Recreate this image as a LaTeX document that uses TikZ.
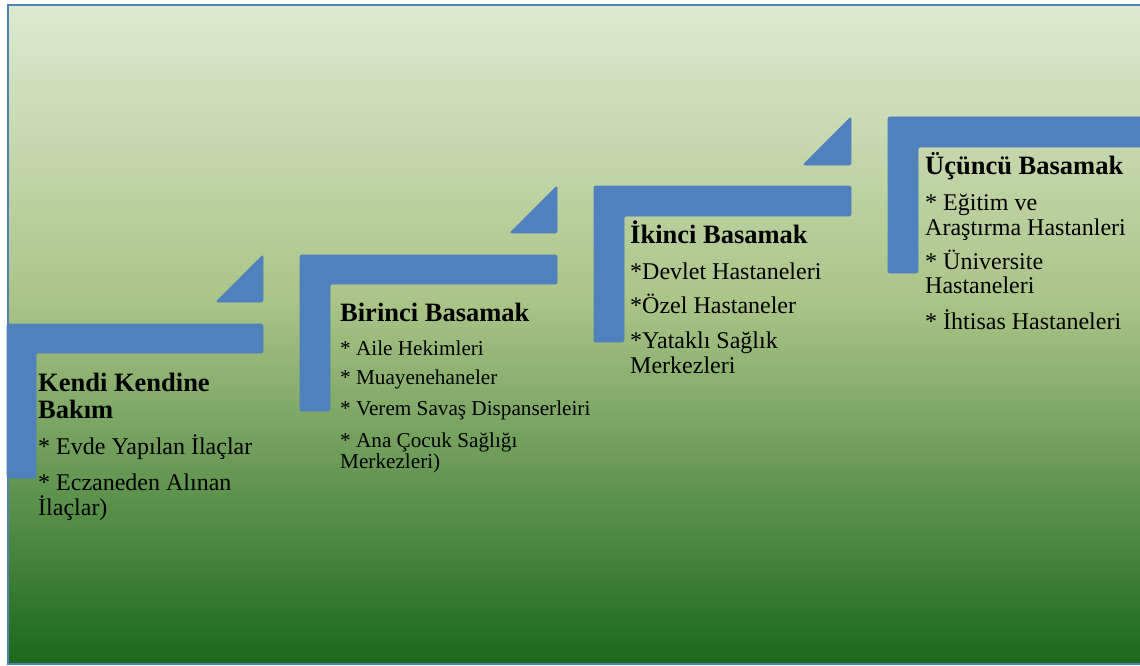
\documentclass[tikz,border=0pt]{standalone}
\usepackage{fontspec}
\setmainfont{Liberation Serif}
\definecolor{ltg}{HTML}{DDEAD0}
\definecolor{midg}{HTML}{ABC487}
\definecolor{dkg}{HTML}{1A681A}
\definecolor{stepblue}{HTML}{4F81BD}
\pgfdeclareverticalshading{bgshade}{100bp}{color(0bp)=(dkg); color(25bp)=(dkg); color(52.5bp)=(midg); color(75bp)=(ltg); color(100bp)=(ltg)}
\tikzset{
  stepshape/.style={fill=stepblue, draw=stepblue, line width=0.8pt, rounded corners=2pt},
  head/.style={anchor=base west, inner sep=0pt, font=\fontsize{26.5}{28}\selectfont\bfseries},
  body/.style={anchor=base west, inner sep=0pt, font=\fontsize{24}{26}\selectfont},
  bodys/.style={anchor=base west, inner sep=0pt, font=\fontsize{21.2}{23}\selectfont}
}
\begin{document}
\begin{tikzpicture}[x=1pt,y=-1pt]
\useasboundingbox (0,0) rectangle (1140,666);
\begin{scope}
\clip (0,0) rectangle (1140,666);
\fill[white] (0,0) rectangle (1140,666);
\path[shading=bgshade] (8,5) rectangle (1150,664);
\draw[stepblue, line width=2pt] (8,5) rectangle (1150,664);
% step 1
\path[stepshape] (7,324) -- (263,324) -- (263,353) -- (36,353) -- (36,478) -- (7,478) -- cycle;
\path[stepshape] (216,302) -- (263,255) -- (263,302) -- cycle;
% step 2
\path[stepshape] (300,255) -- (557,255) -- (557,284) -- (330,284) -- (330,411) -- (300,411) -- cycle;
\path[stepshape] (510,233) -- (557,186) -- (557,233) -- cycle;
% step 3
\path[stepshape] (594,186) -- (851,186) -- (851,216) -- (624,216) -- (624,342) -- (594,342) -- cycle;
\path[stepshape] (803,165) -- (851,117) -- (851,165) -- cycle;
% step 4
\path[stepshape] (888,117) -- (1160,117) -- (1160,147) -- (918,147) -- (918,273) -- (888,273) -- cycle;
\end{scope}
% texts step 1
\node[head] (h1a) at (38,391) {Kendi Kendine};
\node[head] (h1b) at (38,418) {Bakım};
\node[body] (t1a) at (38,454) {* Evde Yapılan İlaçlar};
\node[body] (t1b) at (38,490) {* Eczaneden Alınan};
\node[body] (t1c) at (38,515) {İlaçlar)};
% step 2
\node[head] (h2) at (340,321) {Birinci Basamak};
\node[bodys] (t2a) at (340,355) {* Aile Hekimleri};
\node[bodys] (t2b) at (340,384) {* Muayenehaneler};
\node[bodys] (t2c) at (340,415) {* Verem Savaş Dispanserleiri};
\node[bodys] (t2d) at (340,447) {* Ana Çocuk Sağlığı};
\node[bodys] (t2e) at (340,468) {Merkezleri)};
% step 3
\node[head] (h3) at (630,243) {İkinci Basamak};
\node[body] (t3a) at (630,279) {*Devlet Hastaneleri};
\node[body] (t3b) at (630,313) {*Özel Hastaneler};
\node[body] (t3c) at (630,348) {*Yataklı Sağlık};
\node[body] (t3d) at (630,373) {Merkezleri};
% step 4
\node[head] (h4) at (925,174) {Üçüncü Basamak};
\node[body] (t4a) at (925,210) {* Eğitim ve};
\node[body] (t4b) at (925,235) {Araştırma Hastanleri};
\node[body] (t4c) at (925,269) {* Üniversite};
\node[body] (t4d) at (925,293) {Hastaneleri};
\node[body] (t4e) at (925,329) {* İhtisas Hastaneleri};
\end{tikzpicture}
\end{document}
